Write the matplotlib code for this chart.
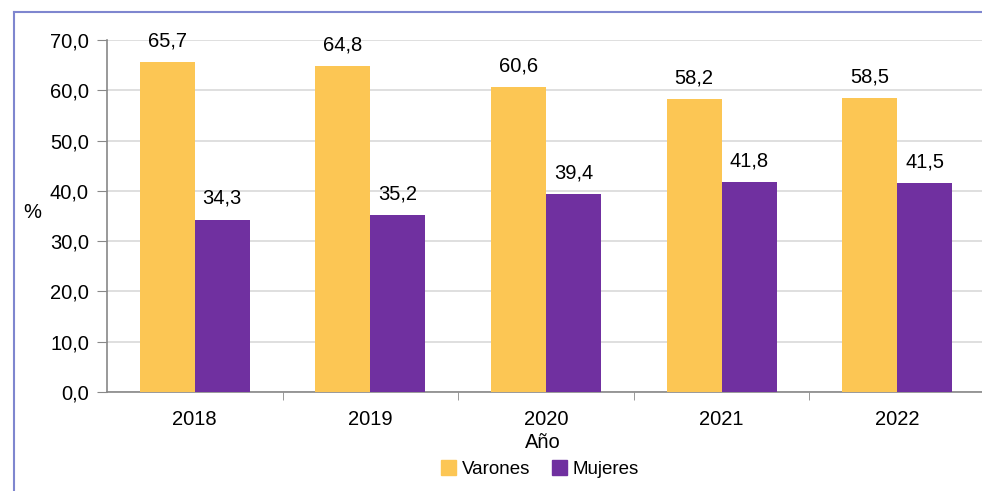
import matplotlib.pyplot as plt
import numpy as np
from matplotlib.lines import Line2D
from matplotlib.patches import Patch

years = ['2018', '2019', '2020', '2021', '2022']
varones = [65.7, 64.8, 60.6, 58.2, 58.5]
mujeres = [34.3, 35.2, 39.4, 41.8, 41.5]

yellow = '#FCC654'
purple = '#7030A0'
plt.rcParams['font.family'] = ['Liberation Sans', 'DejaVu Sans']

fig = plt.figure(figsize=(9.82, 4.91), dpi=100)
ax = fig.add_axes([107/982, 99/491, 878/982, 352/491])

x = np.arange(len(years))
w = 0.313
ax.bar(x - w/2, varones, w, color=yellow, zorder=3)
ax.bar(x + w/2, mujeres, w, color=purple, zorder=3)

for xi, v in zip(x, varones):
    ax.text(xi - w/2, v + 4.2, f'{v:.1f}'.replace('.', ','), ha='center', va='center', fontsize=14.5)
for xi, v in zip(x, mujeres):
    ax.text(xi + w/2, v + 4.2, f'{v:.1f}'.replace('.', ','), ha='center', va='center', fontsize=14.5)

ax.set_xlim(-0.5, 4.5)
ax.set_ylim(0, 70)
ax.set_yticks(np.arange(0, 71, 10))
ax.set_yticklabels([f'{t:.1f}'.replace('.', ',') for t in np.arange(0, 71, 10)], fontsize=14.5)
ax.yaxis.grid(True, color='#d9d9d9', linewidth=1.2, zorder=0)
ax.set_axisbelow(True)

ax.set_xticks(x)
ax.set_xticklabels(years, fontsize=14.5)
ax.set_xticks(np.arange(0.5, 4.5, 1), minor=True)
ax.tick_params(axis='x', which='major', length=0, pad=13)
ax.tick_params(axis='x', which='minor', length=6, color='#888888', direction='out')
ax.tick_params(axis='y', length=7, color='#888888', pad=6)

for s in ['top', 'right']:
    ax.spines[s].set_visible(False)
for s in ['left', 'bottom']:
    ax.spines[s].set_color('#888888')
    ax.spines[s].set_linewidth(1.2)

fig.text(32/982, 1 - 213/491, '%', ha='center', va='center', fontsize=14.5)
fig.text(543/982, 1 - 442/491, 'Año', ha='center', va='center', fontsize=14.5)

handles = [Patch(color=yellow, label='Varones'), Patch(color=purple, label='Mujeres')]
fig.legend(handles=handles, loc='center', bbox_to_anchor=(540/982, 1 - 469/491), ncol=2,
           frameon=False, fontsize=13.5, handlelength=0.8, handleheight=0.8,
           handletextpad=0.3, columnspacing=1.2)

# outer frame lines
frame = '#7F86CF'
fig.add_artist(Line2D([14/982, 14/982], [0, 1 - 12/491], color=frame, linewidth=1.5))
fig.add_artist(Line2D([14/982, 1], [1 - 12/491, 1 - 12/491], color=frame, linewidth=1.5))

fig.savefig('out.png', dpi=100)
